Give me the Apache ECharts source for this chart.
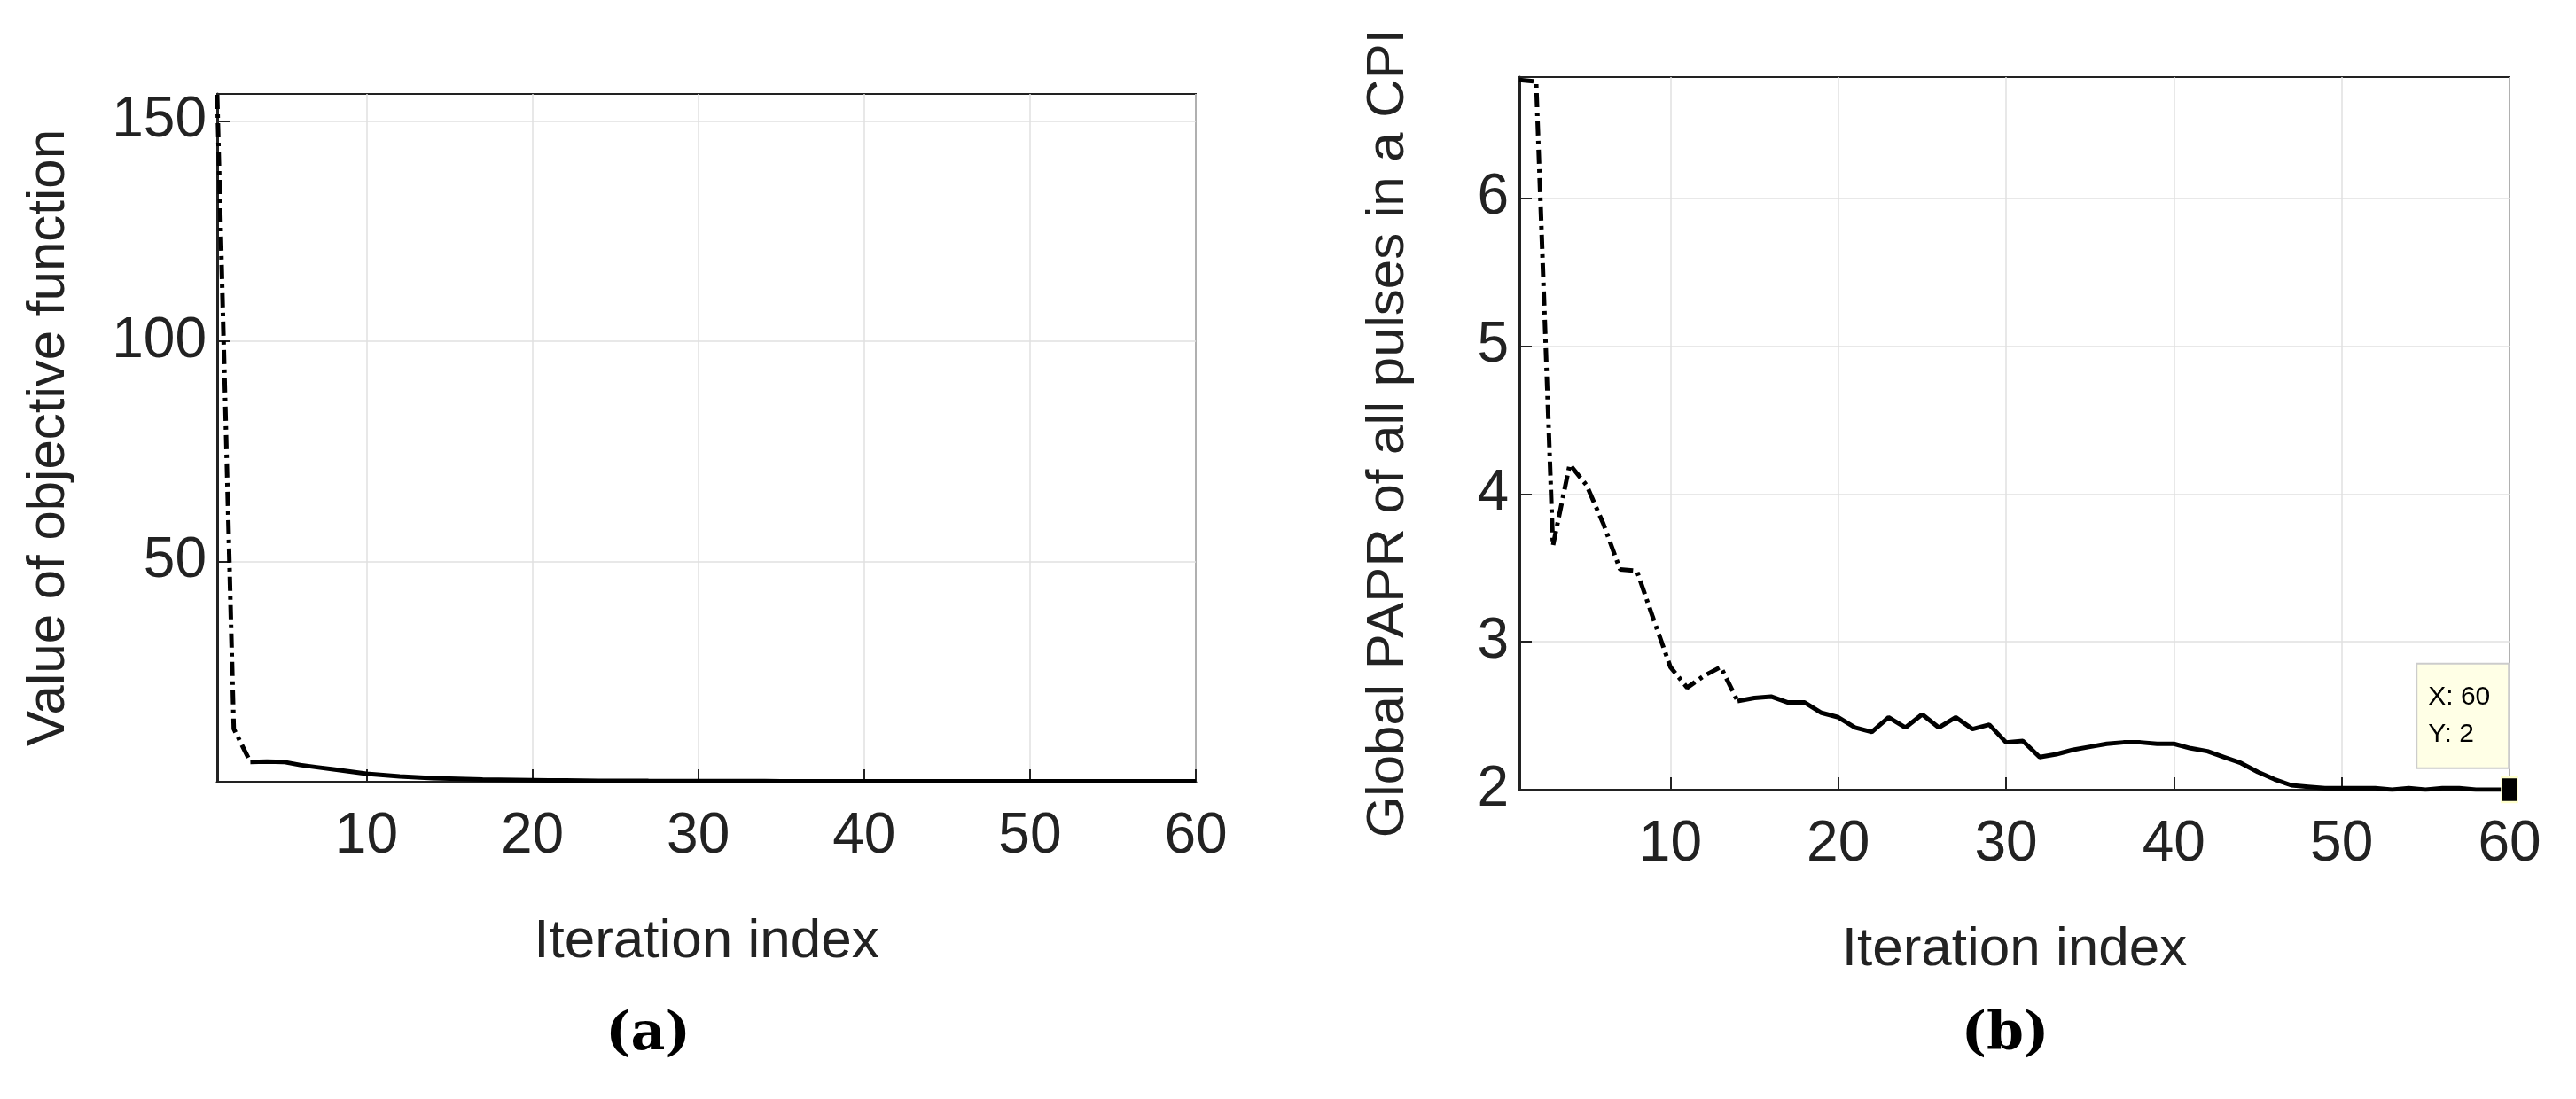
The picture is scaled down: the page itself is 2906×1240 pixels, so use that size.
<!DOCTYPE html>
<html>
<head>
<meta charset="utf-8">
<script src="https://cdn.jsdelivr.net/npm/echarts@6/dist/echarts.min.js"></script>
<style>html,body{margin:0;padding:0;background:#fff}#c{width:2906px;height:1240px}</style>
</head>
<body>
<div id="c"></div>
<script>
// iteration indices
var iterations = [];
for (var i = 1; i <= 60; i++) iterations.push(i);
// (a) objective function values
var objValues = [156, 12, 4.5, 4.6, 4.5, 3.8, 3.3, 2.8, 2.3, 1.8, 1.5, 1.2, 1.0, 0.8, 0.7, 0.6, 0.5, 0.45, 0.4, 0.35,
	0.3, 0.28, 0.25, 0.22, 0.2, 0.2, 0.18, 0.17, 0.16, 0.15, 0.15, 0.14, 0.13, 0.13, 0.12, 0.12, 0.11, 0.11, 0.1, 0.1,
	0.1, 0.1, 0.1, 0.1, 0.1, 0.1, 0.1, 0.1, 0.1, 0.1, 0.1, 0.1, 0.1, 0.1, 0.1, 0.1, 0.1, 0.1, 0.1, 0.1];
// (b) global PAPR values
var paprValues = [6.8, 6.79, 3.65, 4.2, 4.06, 3.8, 3.49, 3.48, 3.15, 2.83, 2.69, 2.77, 2.83, 2.6, 2.62, 2.63, 2.59, 2.59, 2.52, 2.49,
	2.42, 2.39, 2.49, 2.42, 2.51, 2.42, 2.49, 2.41, 2.44, 2.32, 2.33, 2.22, 2.24, 2.27, 2.29, 2.31, 2.32, 2.32, 2.31, 2.31,
	2.28, 2.26, 2.22, 2.18, 2.12, 2.07, 2.03, 2.02, 2.01, 2.01, 2.01, 2.01, 2.0, 2.01, 2.0, 2.01, 2.01, 2.0, 2.0, 2.0];
var xTicks = [10, 20, 30, 40, 50, 60];
var objTicks = [50, 100, 150];
var paprTicks = [2, 3, 4, 5, 6];
// 虚线段结束位置
var objDashEnd = 3, paprDashEnd = 14;

function pairs(vals) {
	return vals.map(function(v, k) { return [iterations[k], v]; });
}
function split(vals, end) {
	var p = pairs(vals);
	return [p.slice(0, end), p.slice(end - 1)];
}

var font = 'Liberation Sans';
var narrow = 'Liberation Sans Narrow, Liberation Sans';

function xAxis(idx) {
	return {
		gridIndex: idx, type: 'value', min: 1, max: 60,
		name: 'Iteration index', nameLocation: 'middle', nameGap: 150,
		nameTextStyle: { fontFamily: font, fontSize: 62, color: '#222' },
		axisLine: { lineStyle: { color: '#222', width: 3 } },
		axisTick: { customValues: xTicks, inside: true, length: 14, lineStyle: { color: '#222', width: 2 } },
		axisLabel: { customValues: xTicks, fontFamily: narrow, fontSize: 64, color: '#222', margin: 30 },
		splitLine: { show: true, customValues: xTicks, lineStyle: { color: '#e0e0e0', width: 1.5 } }
	};
}
function yAxis(idx, min, max, ticks, name, gap) {
	return {
		gridIndex: idx, type: 'value', min: min, max: max,
		name: name, nameLocation: 'middle', nameGap: gap,
		nameTextStyle: { fontFamily: font, fontSize: 60, color: '#222' },
		axisLine: { lineStyle: { color: '#222', width: 3 } },
		axisTick: { customValues: ticks, inside: true, length: 14, lineStyle: { color: '#222', width: 2 } },
		axisLabel: { customValues: ticks, fontFamily: narrow, fontSize: 64, color: '#222', margin: 12 },
		splitLine: { show: true, customValues: ticks, lineStyle: { color: '#e0e0e0', width: 1.5 } }
	};
}
function line(idx, data, dashed, extra) {
	var s = {
		type: 'line', xAxisIndex: idx, yAxisIndex: idx, data: data, symbol: 'none', silent: true,
		lineStyle: { color: '#000', width: 5, type: dashed ? [16, 6, 4, 6] : 'solid' }
	};
	for (var k in extra) s[k] = extra[k];
	return s;
}

var objParts = split(objValues, objDashEnd);
var paprParts = split(paprValues, paprDashEnd);

var capStyle = {
	fontFamily: 'DejaVu Serif', fontSize: 60, color: '#000',
	rich: { b: { fontFamily: 'DejaVu Serif', fontSize: 60, fontWeight: 'bold', color: '#000' } }
};

var chart = echarts.init(document.getElementById('c'));
chart.setOption({
	backgroundColor: '#fff',
	animation: false,
	grid: [
		{ left: 245, right: 1557, top: 106, height: 776, show: true, borderColor: '#222', borderWidth: 2 },
		{ left: 1714, right: 75, top: 87, height: 804, show: true, borderColor: '#222', borderWidth: 2 }
	],
	xAxis: [xAxis(0), xAxis(1)],
	yAxis: [
		yAxis(0, 0, 156.2, objTicks, 'Value of objective function', 160),
		yAxis(1, 2, 6.82, paprTicks, 'Global PAPR of all pulses in a CPI', 118)
	],
	title: [
		{ text: '({b|a})', left: 726, top: 1133, textAlign: 'center', textStyle: capStyle },
		{ text: '({b|b})', left: 2257, top: 1133, textAlign: 'center', textStyle: capStyle }
	],
	series: [
		line(0, objParts[0], true),
		line(0, objParts[1], false),
		line(1, paprParts[0], true),
		line(1, paprParts[1], false, {
			markPoint: {
				symbol: 'rect', symbolSize: [18, 28],
				itemStyle: { color: '#000', borderColor: '#ffffcc', borderWidth: 2 },
				data: [{ coord: [60, 2] }],
				label: {
					show: true, formatter: 'X: 60\nY: 2', position: [-94, -126], align: 'left',
					fontFamily: narrow, fontSize: 30, color: '#000', lineHeight: 42,
					backgroundColor: '#ffffe6', borderColor: '#ccc', borderWidth: 2, padding: [16, 20, 16, 12], width: 70
				}
			}
		})
	]
});
</script>
</body>
</html>
